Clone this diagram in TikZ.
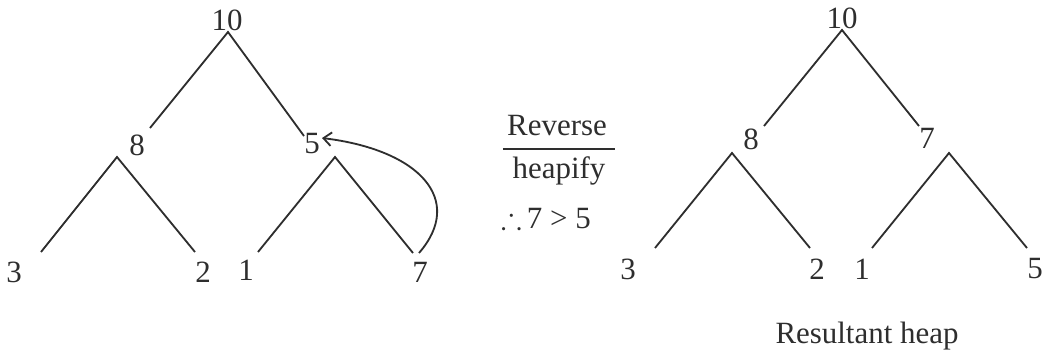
\documentclass[tikz,border=0pt]{standalone}
\usepackage{amssymb}
\usepackage{fontspec}
\setmainfont{Liberation Serif}
\usepackage{tikz}
\usetikzlibrary{arrows.meta, calc}
\definecolor{ink}{HTML}{2E2E2E}

\begin{document}
\begin{tikzpicture}[
			every node/.style={font=\fontsize{22}{26}\selectfont, text=ink, inner sep=0pt},
			key/.style={anchor=center},
			word/.style={anchor=base},
			edge/.style={draw=ink, line width=1.3pt},
			arrow/.style={
				-{Straight Barb[length=2mm,width=3.4mm]},
				draw=ink, line width=1.3pt
			}
			]
			\useasboundingbox (0,0) rectangle (26.15,-8.8);
			
			% before
			\node[key] (t10) at (5.675,-0.5) {10};
			\node[key] (t8) at (3.425,-3.625) {8};
			\node[key] (t5) at (7.8,-3.6) {5};
			\node[key] (t3) at (0.35,-6.8) {3};
			\node[key] (t2) at (5.075,-6.8) {2};
			\node[key] (t1) at (6.15,-6.75) {1};
			\node[key] (t7) at (10.5,-6.8) {7};
			
			\draw[edge] ($(t8)+(0.325,0.425)$) -- ($(t10)+(0.025,-0.3)$) -- ($(t5)+(-0.2,0.2)$);
			\draw[edge] ($(t3)+(0.675,0.5)$) -- ($(t8)+(-0.5,-0.3)$) -- ($(t2)+(-0.2,0.5)$);
			\draw[edge] ($(t1)+(0.3,0.45)$) -- ($(t5)+(0.575,-0.325)$) -- ($(t7)+(-0.175,0.475)$);
			\draw[arrow] ($(t7)+(-0.025,0.475)$) .. controls (11.625,-5.0) and (10.5,-3.75) .. ($(t5)+(0.25,0.15)$);
			
			% step
			\node[word] (rev) at (13.925,-3.375) {Reverse};
			\node[word] (hpf) at (13.975,-4.45) {heapify};
			\node[word] (why) at (13.65,-5.7) {$\therefore$\,7 > 5};
			\draw[edge] ($(rev.south west)+(-0.1,-0.325)$) -- ($(rev.south east)+(0.2,-0.325)$);
			
			% after
			\node[key] (r10) at (21.05,-0.45) {10};
			\node[key] (r8) at (18.775,-3.475) {8};
			\node[key] (r7) at (23.175,-3.45) {7};
			\node[key] (r3) at (15.7,-6.725) {3};
			\node[key] (r2) at (20.425,-6.725) {2};
			\node[key] (r1) at (21.55,-6.725) {1};
			\node[key] (r5) at (25.875,-6.725) {5};
			
			\draw[edge] ($(r8)+(0.325,0.325)$) -- ($(r10)+(0,-0.3)$) -- ($(r7)+(-0.2,0.3)$);
			\draw[edge] ($(r3)+(0.675,0.525)$) -- ($(r8)+(-0.475,-0.35)$) -- ($(r2)+(-0.175,0.525)$);
			\draw[edge] ($(r1)+(0.25,0.525)$) -- ($(r7)+(0.55,-0.375)$) -- ($(r5)+(-0.2,0.525)$);
			
			\node[word] (res) at (21.675,-8.575) {Resultant heap};
		\end{tikzpicture}
\end{document}
